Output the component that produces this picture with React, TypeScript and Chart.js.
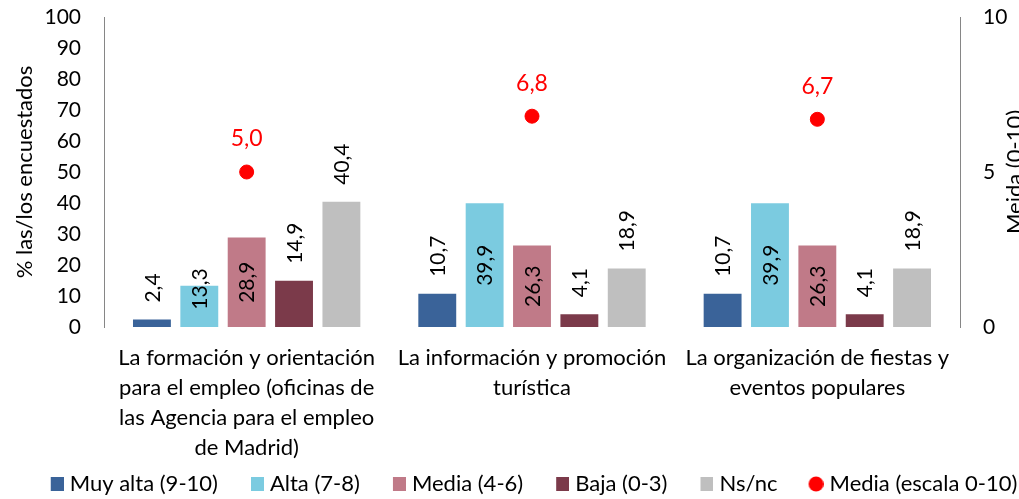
import React, { useEffect, useRef } from "react";
import { Chart, registerables } from "chart.js";

Chart.register(...registerables);

const categories: string[][] = [
  ["La formación y orientación", "para el empleo (oficinas de", "las Agencia para el empleo", "de Madrid)"],
  ["La información y promoción", "turística"],
  ["La organización de fiestas y", "eventos populares"],
];
const seriesNames = ["Muy alta (9-10)", "Alta (7-8)", "Media (4-6)", "Baja (0-3)", "Ns/nc", "Media (escala 0-10)"];
const muyAlta = [2.4, 10.7, 10.7];
const alta = [13.3, 39.9, 39.9];
const media = [28.9, 26.3, 26.3];
const baja = [14.9, 4.1, 4.1];
const nsnc = [40.4, 18.9, 18.9];
const mediaEscala = [5.0, 6.8, 6.7];
const leftTicks = { min: 0, max: 100, step: 10 };
const rightTicks = { min: 0, max: 10, step: 5 };
const leftTitle = "% las/los encuestados";
const rightTitle = "Meida (0-10)";

const colors = ["#3A6399", "#7BCBE0", "#C07A88", "#7B3A4A", "#BFBFBF", "#FF0000"];
const FONT = "Lato, 'Noto Sans', sans-serif";
const fmt = (v: number) => v.toFixed(1).replace(".", ",");

const LEG_W = 33; // legend marker slot width
const LEG_FONT = 22;
const LEG_SHIFT = 12;

const labelPlugin = {
  id: "valueLabels",
  afterLayout(chart: any) {
    if (chart.legend) {
      chart.legend.left += LEG_SHIFT;
      chart.legend.right += LEG_SHIFT;
    }
  },
  afterDatasetsDraw(chart: any) {
    const ctx = chart.ctx;
    ctx.save();
    for (let i = 0; i < 5; i++) {
      const meta = chart.getDatasetMeta(i);
      const inside = i === 1 || i === 2;
      meta.data.forEach((bar: any, j: number) => {
        const v = chart.data.datasets[i].data[j] as number;
        ctx.save();
        ctx.font = `21px ${FONT}`;
        ctx.fillStyle = "#000";
        ctx.textBaseline = "middle";
        if (inside) {
          const mid = (bar.y + bar.base) / 2;
          const cy = Math.min(mid, bar.base - 38);
          ctx.translate(bar.x, cy);
          ctx.rotate(-Math.PI / 2);
          ctx.textAlign = "center";
          ctx.fillText(fmt(v), 0, 1);
        } else {
          ctx.translate(bar.x, bar.y - 17);
          ctx.rotate(-Math.PI / 2);
          ctx.textAlign = "left";
          ctx.fillText(fmt(v), 0, 1);
        }
        ctx.restore();
      });
    }
    const pm = chart.getDatasetMeta(5);
    pm.data.forEach((pt: any, j: number) => {
      const v = chart.data.datasets[5].data[j] as number;
      ctx.font = `23px ${FONT}`;
      ctx.fillStyle = "#FF0000";
      ctx.textAlign = "center";
      ctx.textBaseline = "middle";
      ctx.fillText(fmt(v), pt.x, pt.y - 33);
    });
    // right axis title, reading bottom-to-top
    const ca = chart.chartArea;
    ctx.save();
    ctx.font = `22px ${FONT}`;
    ctx.fillStyle = "#000";
    ctx.translate(1022, (ca.top + ca.bottom) / 2);
    ctx.rotate(-Math.PI / 2);
    ctx.textAlign = "center";
    ctx.textBaseline = "alphabetic";
    ctx.fillText(rightTitle, 0, 0);
    ctx.restore();
    ctx.restore();
  },
};

// legend marker image: marker drawn at the right end of a slot
function makeMarker(color: string, round: boolean) {
  const cw = LEG_W + 10;
  const h = 16;
  const c = document.createElement("canvas");
  c.width = cw;
  c.height = h;
  const x = c.getContext("2d")!;
  x.fillStyle = color;
  if (round) {
    x.beginPath();
    x.arc(cw - 7.5, h / 2, 7.5, 0, Math.PI * 2);
    x.fill();
  } else {
    x.fillRect(cw - 13, 1, 13, 14);
  }
  return c;
}

export default function App() {
  const ref = useRef<HTMLCanvasElement>(null);
  useEffect(() => {
    const markers = colors.map((c, i) => makeMarker(c, i === 5));
    const barData = [muyAlta, alta, media, baja, nsnc];
    const chart = new Chart(ref.current!, {
      type: "bar",
      data: {
        labels: categories,
        datasets: [
          ...barData.map((d, i) => ({
            type: "bar" as const,
            label: seriesNames[i],
            data: d,
            backgroundColor: colors[i],
            borderWidth: 0,
            categoryPercentage: 0.83,
            barPercentage: 0.8,
            yAxisID: "y",
          })),
          {
            type: "line" as const,
            label: seriesNames[5],
            data: mediaEscala,
            showLine: false,
            yAxisID: "y2",
            backgroundColor: colors[5],
            borderColor: colors[5],
            pointRadius: 7,
            pointHoverRadius: 7,
            pointStyle: "circle" as const,
          },
        ],
      },
      options: {
        responsive: false,
        animation: false,
        layout: { padding: { top: 17, bottom: -6, left: 0, right: 0 } },
        plugins: {
          tooltip: { enabled: false },
          legend: {
            position: "bottom",
            labels: {
              usePointStyle: true,
              pointStyleWidth: LEG_W,
              boxHeight: 14,
              padding: 8,
              color: "#000",
              font: { family: FONT, size: LEG_FONT },
              generateLabels(ch: any) {
                const items = Chart.defaults.plugins.legend.labels.generateLabels(ch);
                items.sort((a: any, b: any) => a.datasetIndex - b.datasetIndex);
                items.forEach((it: any) => {
                  it.pointStyle = markers[it.datasetIndex];
                  it.lineWidth = 0;
                  it.strokeStyle = "rgba(0,0,0,0)";
                });
                return items;
              },
            },
          },
        },
        scales: {
          x: {
            grid: { display: false },
            border: { display: false },
            ticks: {
              color: "#000",
              font: { family: FONT, size: 22, lineHeight: 1.36 },
              padding: 8,
              maxRotation: 0,
              autoSkip: false,
            },
            afterFit(s: any) {
              s.height = 138;
            },
          },
          y: {
            position: "left",
            min: leftTicks.min,
            max: leftTicks.max,
            ticks: {
              stepSize: leftTicks.step,
              autoSkip: false,
              color: "#000",
              font: { family: FONT, size: 21 },
              padding: 23,
            },
            grid: { display: false, drawTicks: false },
            border: { display: true, color: "#868686", width: 1 },
            title: {
              display: true,
              text: leftTitle,
              color: "#000",
              font: { family: FONT, size: 22 },
              padding: { top: 12, bottom: 0 },
            },
            afterFit(s: any) {
              s.width = 104;
              s.paddingTop = 0;
              s.paddingBottom = 0;
            },
          },
          y2: {
            position: "right",
            min: rightTicks.min,
            max: rightTicks.max,
            ticks: {
              stepSize: rightTicks.step,
              autoSkip: false,
              color: "#000",
              font: { family: FONT, size: 21 },
              padding: 23,
            },
            grid: { display: false, drawTicks: false },
            border: { display: true, color: "#868686", width: 1 },
            afterFit(s: any) {
              s.width = 59;
              s.paddingTop = 0;
              s.paddingBottom = 0;
            },
          },
        },
      },
      plugins: [labelPlugin],
    } as any);
    return () => chart.destroy();
  }, []);
  return (
    <div style={{ position: "fixed", left: 0, top: 0, width: 1019, height: 499, background: "#fff" }}>
      <canvas ref={ref} width={1019} height={499} style={{ display: "block" }} />
    </div>
  );
}
